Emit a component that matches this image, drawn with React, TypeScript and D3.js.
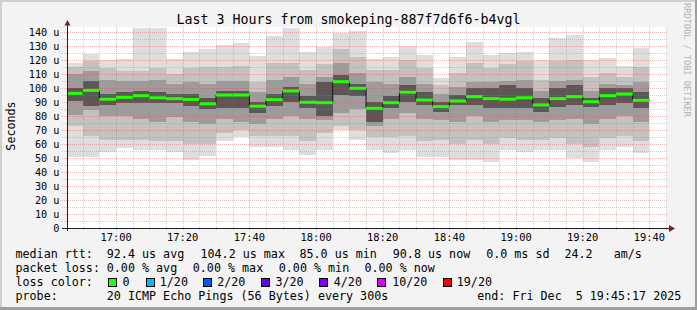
import React from 'react';
import * as d3 from 'd3';

// ---- data (values in microseconds, one entry per 5-minute step, 16:45 .. 19:35 starts) ----
const medianRtt = [96.2, 98.3, 92, 93.3, 94.5, 93, 92.4, 91.8, 88.7, 95, 95, 87, 91.7, 97.9, 89.8, 89.5, 104.5, 99.8, 85.5, 89.5, 97, 91.4, 86.7, 90.7, 93.8, 92.4, 92, 93, 87.9, 92.4, 93.8, 90.2, 94.5, 95.7, 91.2];
const pingMin = [51, 51, 54.5, 57, 56, 56, 54.5, 48.6, 51.6, 62, 65, 58, 58, 56, 52, 56, 70, 63, 56, 53.6, 56, 51, 50.7, 48.6, 48.6, 47, 56, 54, 56, 56, 49.8, 47.4, 55.7, 58, 53.8];
const pingMax = [118, 124, 120, 121, 143, 143, 121, 125.5, 128, 130.7, 132.4, 123, 137, 142.6, 126, 129.5, 139, 141, 121, 122.4, 130, 123.6, 107, 122, 133, 123.6, 124.8, 126, 120, 135.5, 138, 120, 121.7, 116, 128.8];
const p10 = [73, 66, 63, 63, 63, 62, 62, 60, 60, 68, 70, 66, 66, 66, 62, 68, 73, 70, 65, 65, 66, 62, 63, 60, 63, 60, 64, 63, 63, 64, 60, 58, 64, 66, 62];
const p25 = [81, 84, 80, 80, 78, 76, 79, 76, 74, 78, 76, 74, 78, 80, 78, 77, 82, 85, 73, 78, 82, 78, 77, 76, 80, 76, 77, 77, 76, 77, 78, 74, 78, 80, 76];
const p40 = [91, 87, 88, 89, 89, 89, 89, 87, 85, 86, 86, 82, 87, 90, 86, 80, 95, 94, 76, 86, 90, 88, 83, 88, 88, 85.5, 85.5, 86, 83, 86.7, 88, 86.7, 88, 89, 85.5];
const p60 = [100, 105, 96, 97, 98, 97, 96, 96, 93, 98, 98, 90, 96, 101, 94, 104, 109, 103, 90, 94, 102, 97, 90, 95, 100, 100, 102, 100, 92.6, 100, 102, 92.6, 100, 100, 97];
const p75 = [110, 112, 106, 105, 105, 106, 103, 104, 103, 105, 105, 97, 106, 108, 103, 108, 118, 111, 104, 103, 108, 103, 96, 101, 104, 104, 105, 106, 98, 105, 106, 98, 103, 102, 104];
const p90 = [115, 119, 114, 112, 112, 114, 110, 114, 115, 115, 116, 104, 118, 118, 113, 117, 128, 122, 113, 113, 120, 114, 102, 111, 118, 114, 117, 119, 106, 119, 120, 108, 111, 108, 115];

const yTickValues = [0, 10, 20, 30, 40, 50, 60, 70, 80, 90, 100, 110, 120, 130, 140];
const lossLabels = ['0', '1/20', '2/20', '3/20', '4/20', '10/20', '19/20'];
const lossColors = ['#26ff00', '#00b8ff', '#0059ff', '#5e00ff', '#7e00ff', '#dd00ff', '#ff0000'];

const titleText = 'Last 3 Hours from smokeping-887f7d6f6-b4vgl';
const FONT = '"DejaVu Sans Mono", monospace';
const sp = (s: string) => s.replace(/ /g, '\u00a0');

export default function App() {
  const W = 697, H = 310;
  const L = 67, R = 667, T = 27, B = 228;
  const tStart = new Date(Date.UTC(2025, 11, 5, 16, 45, 17));
  const tEnd = new Date(Date.UTC(2025, 11, 5, 19, 45, 17));
  const x = d3.scaleUtc().domain([tStart, tEnd]).range([L, R]);
  const y = d3.scaleLinear().domain([0, (B - T) / 1.4]).range([B, T]);

  const barStarts = d3.utcMinute.every(5)!.range(
    new Date(Date.UTC(2025, 11, 5, 16, 45)),
    new Date(Date.UTC(2025, 11, 5, 19, 40))
  );
  const step = 5 * 60 * 1000;
  const bx0 = (i: number) => Math.max(L, x(barStarts[i]));
  const bx1 = (i: number) => x(new Date(barStarts[i].getTime() + step));

  const layers: [number[], number[], string][] = [
    [pingMin, pingMax, '#dedede'],
    [p10, p90, '#c2c2c2'],
    [p25, p75, '#9c9c9c'],
    [p40, p60, '#585858'],
  ];

  const minorX = d3.utcMinute.every(5)!.range(tStart, tEnd);
  const majorX = d3.utcMinute.every(20)!.range(tStart, tEnd);
  const isMajor = (d: Date) => d.getUTCMinutes() % 20 === 0;
  const fmt = d3.utcFormat('%H:%M');
  const gridY = d3.range(5, 144, 5);

  const stepPts: [number, number][] = barStarts.map((d, i) => [bx0(i), y(medianRtt[i])]);
  stepPts.push([bx1(barStarts.length - 1), y(medianRtt[medianRtt.length - 1])]);
  const medLine = d3.line().curve(d3.curveStepAfter)(stepPts) || '';

  const legendX = 107.3;
  const boxX = [108.5, 146, 203.5, 261.3, 319.5, 377.5, 443];
  const boxLabelX = [123, 160.3, 217.7, 276, 334.3, 392.7, 457.3];
  const minorCol = 'rgba(140,140,140,0.38)';
  const majorCol = 'rgba(215,70,70,0.38)';

  return (
    <svg width={W} height={H} style={{ position: 'absolute', left: 0, top: 0, display: 'block' }}
      fontFamily={FONT}>
      <defs>
        <clipPath id="canvasClip"><rect x={L} y={T} width={R - L} height={B - T} /></clipPath>
      </defs>
      {/* background and 3D border */}
      <rect x={0} y={0} width={W} height={H} fill="#f3f3f3" />
      <rect x={0} y={0} width={W} height={2} fill="#cfcfcf" />
      <rect x={0} y={0} width={2} height={H} fill="#cfcfcf" />
      <rect x={0} y={H - 3} width={W} height={3} fill="#9e9e9e" />
      <rect x={W - 2} y={0} width={2} height={H} fill="#9e9e9e" />
      {/* canvas */}
      <rect x={L} y={T} width={R - L} height={B - T} fill="#ffffff" />

      {/* smoke */}
      <g clipPath="url(#canvasClip)" shapeRendering="crispEdges">
        {layers.map(([lo, hi, col], li) => (
          <g key={li}>
            {barStarts.map((d, i) => (
              <rect key={i} x={bx0(i)} width={bx1(i) - bx0(i)} y={y(hi[i])} height={y(lo[i]) - y(hi[i])} fill={col} />
            ))}
          </g>
        ))}
      </g>

      {/* grid */}
      <g shapeRendering="crispEdges" strokeWidth={1} strokeDasharray="1,1">
        {gridY.filter(v => v % 10 !== 0).map(v => (
          <line key={'hy' + v} x1={L - 5} x2={R} y1={Math.round(y(v)) + 0.5} y2={Math.round(y(v)) + 0.5} stroke={minorCol} />
        ))}
        {minorX.filter(d => !isMajor(d)).map((d, i) => (
          <line key={'vx' + i} x1={Math.round(x(d)) + 0.5} x2={Math.round(x(d)) + 0.5} y1={T} y2={B + 3} stroke={minorCol} />
        ))}
        {gridY.filter(v => v % 10 === 0).map(v => (
          <line key={'my' + v} x1={L - 5} x2={R} y1={Math.round(y(v)) + 0.5} y2={Math.round(y(v)) + 0.5} stroke={majorCol} />
        ))}
        {majorX.map((d, i) => (
          <line key={'mx' + i} x1={Math.round(x(d)) + 0.5} x2={Math.round(x(d)) + 0.5} y1={T} y2={B + 3} stroke={majorCol} />
        ))}
      </g>

      {/* median */}
      <g clipPath="url(#canvasClip)">
        <path d={medLine} fill="none" stroke="#111" strokeWidth={1} />
        {barStarts.map((d, i) => (
          <rect key={i} x={bx0(i)} width={bx1(i) - bx0(i)} y={y(medianRtt[i]) - 1.5} height={3} fill={lossColors[0]} />
        ))}
      </g>

      {/* axes */}
      <line x1={L - 5} x2={R + 3} y1={B + 0.5} y2={B + 0.5} stroke="#1f1f1f" shapeRendering="crispEdges" />
      <line x1={L + 0.5} x2={L + 0.5} y1={B + 3} y2={24} stroke="#1f1f1f" shapeRendering="crispEdges" />
      <path d={`M${L - 2.5},25.5 L${L + 3.5},25.5 L${L + 0.5},20 Z`} fill="#7f1f1f" />
      <path d={`M${R + 2},225 L${R + 2},232 L${R + 8},228.5 Z`} fill="#7f1f1f" />

      {/* y tick labels */}
      <g fontSize={10.2} textAnchor="end" fill="#000">
        {yTickValues.map(v => (
          <text key={v} x={59.5} y={y(v) + 3.7}>{v === 0 ? '0' : sp(`${v} u`)}</text>
        ))}
      </g>
      {/* x tick labels */}
      <g fontSize={10.4} textAnchor="middle" fill="#000">
        {majorX.map((d, i) => (
          <text key={i} x={x(d)} y={241}>{fmt(d)}</text>
        ))}
      </g>

      {/* title */}
      <text x={348.5} y={24} fontSize={13.3} textAnchor="middle" fill="#000">{titleText}</text>
      {/* y axis label */}
      <text transform="translate(14.5,126) rotate(-90)" fontSize={11.7} textAnchor="middle" fill="#000">Seconds</text>
      {/* watermark */}
      <text transform="translate(684.3,60) rotate(90)" fontSize={8.6} textAnchor="middle" fill="#b4b4b4">{sp('RRDTOOL / TOBI OETIKER')}</text>

      {/* legend */}
      <g fontSize={11.7} fill="#000">
        <text x={15.5} y={258}>{sp('median rtt:')}</text>
        <text x={legendX - 0.5} y={258}>{sp('92.4 us avg')}</text>
        <text x={200.5} y={258}>{sp('104.2 us max')}</text>
        <text x={299.5} y={258}>{sp('85.0 us min')}</text>
        <text x={392.8} y={258}>{sp('90.8 us now')}</text>
        <text x={486.2} y={258}>{sp('0.0 ms sd')}</text>
        <text x={564.5} y={258}>{sp('24.2   am/s')}</text>

        <text x={15.5} y={272}>{sp('packet loss:')}</text>
        <text x={legendX - 0.5} y={272}>{sp('0.00 % avg')}</text>
        <text x={192.8} y={272}>{sp('0.00 % max')}</text>
        <text x={278.8} y={272}>{sp('0.00 % min')}</text>
        <text x={364.5} y={272}>{sp('0.00 % now')}</text>

        <text x={15.5} y={286}>{sp('loss color:')}</text>
        {lossLabels.map((lab, i) => (
          <g key={lab}>
            <rect x={boxX[i]} y={278.5} width={8} height={8} fill={lossColors[i]} stroke="#000" strokeWidth={1} shapeRendering="crispEdges" />
            <text x={boxLabelX[i] - 0.5} y={286}>{lab}</text>
          </g>
        ))}

        <text x={15.5} y={299.5}>{sp('probe:')}</text>
        <text x={legendX - 0.5} y={299.5}>{sp('20 ICMP Echo Pings (56 Bytes) every 300s')}</text>
        <text x={681.3} y={299.5} textAnchor="end">{sp('end: Fri Dec  5 19:45:17 2025')}</text>
      </g>
    </svg>
  );
}
